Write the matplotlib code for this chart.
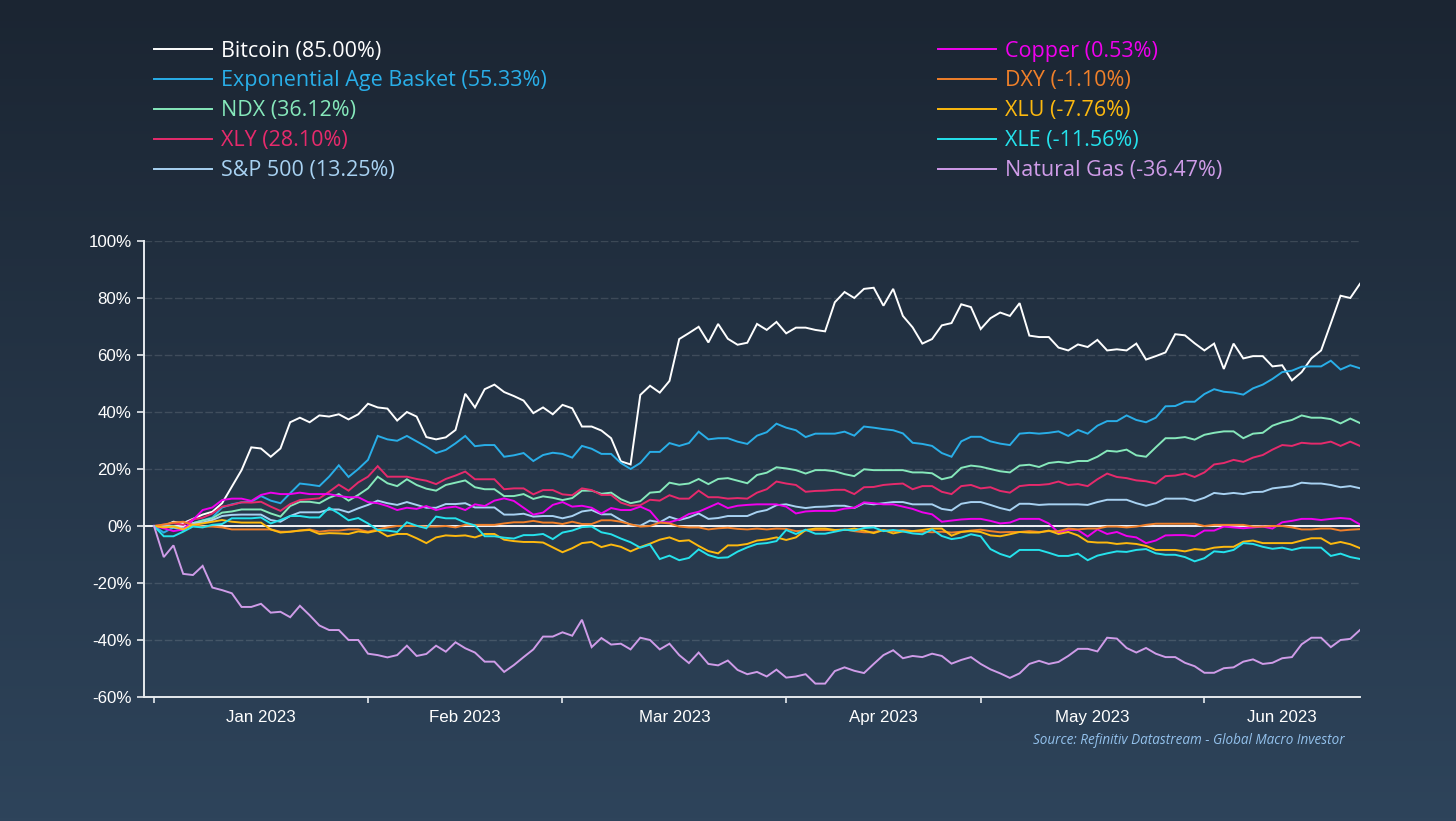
#!/usr/bin/env python3
"""Performance of assets since the start of 2023, rebased to 0%."""
import matplotlib
matplotlib.use("Agg")
import matplotlib.pyplot as plt
import numpy as np
from matplotlib.colors import LinearSegmentedColormap

W, H = 1456, 821

bitcoin = [0, 0, 1.5, 1, 2.5, 4, 5, 8, 13.8, 19.6,
           27.6, 27.2, 24.3, 27.2, 36.4, 38, 36.4, 38.8, 38.4, 39.2,
           37.4, 39.2, 42.9, 41.6, 41.2, 37, 40, 38.4, 31.2, 30.4,
           31.1, 33.7, 46.4, 41.6, 48, 49.6, 47, 45.6, 44, 39.6,
           41.6, 39.2, 42.5, 41.3, 34.9, 34.9, 33.5, 30.8, 22.7, 21.6,
           46, 49.2, 46.8, 50.9, 65.6, 67.7, 69.9, 64.4, 70.9, 65.7,
           63.6, 64.3, 70.9, 68.8, 71.6, 67.6, 69.6, 69.6, 68.8, 68.3,
           78.5, 82.1, 80, 83.2, 83.6, 77.3, 83.2, 73.7, 69.7, 64,
           65.6, 70.4, 71.2, 77.8, 76.8, 69.1, 72.9, 74.9, 73.7, 78.2,
           66.8, 66.3, 66.3, 62.6, 61.6, 63.7, 62.8, 65.3, 61.6, 62,
           61.6, 64, 58.4, 59.6, 60.9, 67.3, 66.9, 64.1, 61.6, 64,
           55.1, 64, 58.8, 59.6, 59.6, 56, 56.4, 51.1, 54, 58.8,
           61.6, 71.1, 80.8, 80, 85]
exp_age = [0, -2.3, -0.5, -1.5, 1, 2, 3, 6.5, 7.6, 8.3,
           8.5, 10.5, 8.9, 8, 11.5, 14.9, 14.5, 14, 17.3, 21.3,
           17.2, 20, 23.2, 31.6, 30.4, 29.9, 31.6, 29.7, 27.8, 25.6,
           26.7, 29, 31.6, 28, 28.4, 28.4, 24.3, 24.8, 25.6, 22.8,
           24.9, 25.7, 25.3, 24, 28.1, 27.1, 25.3, 25.3, 22.1, 20,
           22.1, 26, 26, 29.1, 28.1, 29.1, 33.1, 30.4, 30.8, 30.8,
           29.6, 28.8, 31.7, 32.9, 35.9, 34.5, 33.6, 31.2, 32.4, 32.4,
           32.4, 33.1, 31.7, 34.9, 34.5, 34, 33.6, 32.5, 29.2, 28.8,
           28.1, 25.6, 24.3, 29.7, 31.3, 31.3, 29.7, 28.9, 28.4, 32.4,
           32.7, 32.4, 32.7, 33.2, 31.6, 33.7, 32.4, 35.2, 36.8, 36.8,
           38.8, 37.2, 36.4, 38, 42, 42.1, 43.6, 43.6, 46.3, 48,
           47.1, 46.8, 46.1, 48.3, 49.6, 51.6, 54, 54.5, 55.9, 56,
           56, 58, 54.9, 56.4, 55.33]
ndx = [0, 0, 0, -1, 1, 1.9, 2.7, 4.7, 5.1, 5.8,
       5.8, 5.8, 4.4, 3.3, 7, 8.5, 8.5, 8, 9.9, 11.2,
       8.9, 10.9, 13.2, 17.3, 15, 14, 16.4, 14.4, 13.1, 12.4,
       14.4, 15.2, 16, 13.6, 12.9, 12.9, 10.5, 10.5, 11.2, 9.5,
       10.4, 9.9, 9.1, 9.8, 12.4, 12.4, 11.3, 11.7, 9.4, 8,
       8.7, 11.7, 12, 15.2, 14.5, 14.9, 16.5, 14.7, 16.5, 16.8,
       15.9, 15, 17.9, 18.7, 20.6, 20.2, 19.6, 18.4, 19.6, 19.6,
       19.2, 18.2, 17.5, 19.9, 19.6, 19.6, 19.6, 19.6, 18.8, 18.8,
       18.5, 16.4, 17.2, 20.4, 21.2, 20.8, 20, 19.2, 18.8, 21.2,
       21.5, 20.7, 22.1, 22.5, 22.1, 22.8, 22.8, 24.3, 26.4, 26.1,
       26.8, 24.8, 24.3, 27.6, 30.8, 30.8, 31.2, 30.3, 32, 32.7,
       33.2, 33.2, 30.8, 32.4, 32.7, 35.2, 36.4, 37.2, 38.8, 38,
       38, 37.5, 36, 37.7, 36.12]
xly = [0, 0.5, 1, 0.4, 2.3, 2.9, 4.4, 6.8, 7.4, 8.3,
       8.2, 8.5, 6.8, 5.3, 7.7, 9.1, 9.4, 9.7, 12, 14.5,
       12.4, 15.3, 17.3, 21, 17.3, 17.3, 17.3, 16.5, 15.9, 14.7,
       16.5, 17.7, 19.1, 16.4, 16.4, 16.4, 12.9, 13.2, 13.2, 11.1,
       12.6, 12.6, 11.1, 10.8, 13.2, 12.6, 10.9, 10.9, 8.2, 7.1,
       7.3, 9.2, 8.9, 10.8, 9.6, 9.6, 12.4, 10.1, 10.1, 9.6,
       9.8, 9.6, 11.7, 12.9, 15.6, 14.9, 14.4, 12, 12.3, 12.4,
       12.7, 12.7, 11.2, 13.6, 13.7, 14.4, 14.7, 14.9, 12.9, 14,
       14, 12, 11.2, 14, 14.4, 13.2, 13.6, 12.3, 11.7, 14,
       14.4, 14.4, 14.7, 15.6, 14.4, 14.7, 14, 16.4, 18.4, 17.2,
       16.8, 16, 15.7, 14.9, 17.5, 17.7, 18.4, 17.2, 18.8, 21.6,
       22.1, 23.2, 22.5, 24, 24.9, 26.8, 28.4, 28.1, 29.2, 28.9,
       28.9, 29.6, 28.1, 29.6, 28.1]
spx = [0, 0, -0.5, -0.8, 1, 1.2, 2.1, 3.5, 3.9, 4,
       4, 4, 2.1, 1.5, 3.5, 4.8, 4.8, 4.8, 5.8, 5.8,
       4.8, 6.2, 7.4, 8.9, 8, 7.4, 8.4, 7.4, 6.4, 6.4,
       7.7, 7.7, 8, 6.5, 6.5, 6.5, 4, 4, 4.3, 3.3,
       3.5, 3.5, 2.7, 3.5, 5.1, 5.6, 4.1, 4.1, 2.1, 0.4,
       0.1, 1.9, 1.3, 3.2, 2.1, 3, 4.4, 2.5, 2.8, 3.5,
       3.5, 3.5, 4.9, 5.6, 7.3, 7.6, 6.8, 6.3, 6.7, 6.8,
       7.1, 7.1, 6.3, 8, 7.6, 8, 8.4, 8.4, 7.6, 7.6,
       7.6, 6, 5.5, 7.8, 8.4, 8.4, 7.4, 6.3, 5.5, 7.8,
       7.8, 7.4, 7.6, 7.6, 7.6, 7.6, 7.4, 8.4, 9.2, 9.2,
       9.2, 8, 7.1, 8, 9.6, 9.6, 9.6, 8.8, 9.9, 11.6,
       11.2, 11.6, 11.2, 11.9, 12, 13.2, 13.6, 14, 15.2, 14.9,
       14.9, 14.4, 13.6, 14, 13.25]
copper = [0, -0.8, -1.8, -1.2, 2.1, 5.6, 6.5, 9.1, 9.6, 9.6,
          8.8, 10.9, 11.7, 11.2, 11.2, 11.7, 11.2, 11.2, 11.2, 10.5,
          10.1, 10.1, 8.4, 8, 7, 5.6, 6.4, 6, 7, 5.6,
          6.4, 6.8, 5.6, 7.6, 7, 8.9, 9.7, 8.8, 6.4, 4,
          4.7, 7.4, 8.4, 6.8, 7.1, 6.4, 4.4, 6.3, 5.6, 5.6,
          6.8, 5.3, 1.3, 1.3, 2.3, 4.2, 5, 6.5, 8, 6.3,
          7.1, 7.4, 7.6, 7.6, 7.6, 6.8, 4.4, 5.1, 5.3, 5.3,
          5.3, 6.1, 6.4, 8.3, 8, 7.6, 7.6, 6.8, 6, 4.8,
          4.1, 1.5, 1.9, 2.3, 2.5, 2.5, 1.8, 0.9, 1.2, 2.5,
          2.5, 2.5, 0.9, -2.3, -1.3, -1.4, -3.7, -1.2, -2.8, -2.1,
          -3.5, -4, -6, -5.1, -3.3, -3.2, -3.2, -3.6, -1.6, -1.6,
          -0.2, -0.5, -0.8, -0.5, -0.2, -0.9, 1.3, 1.8, 2.5, 2.5,
          2.1, 2.5, 2.8, 2.5, 0.53]
dxy = [0, 0.5, 1.2, 1.5, 0.4, -0.2, -0.2, -0.5, -1.2, -1.2,
       -1.2, -1.2, -1.2, -2, -2, -1.6, -1.2, -2, -1.6, -1.6,
       -1.2, -1.2, -2, -1.2, -0.5, 0, 0, 0, -0.2, -0.2,
       0, -0.5, 0.4, 0.4, 0.4, 0.4, 0.9, 1.3, 1.3, 1.8,
       1.2, 1.2, 0.7, 1.5, 0.7, 0.7, 2, 2, 1.5, 0.6,
       -0.2, 0, 1.2, 0.9, -0.2, -0.5, -0.5, -1.2, -0.8, -0.6,
       -1, -1.2, -0.9, -1.2, -0.9, -1, -1.8, -1.6, -1.4, -1.4,
       -1.4, -1.2, -1.8, -2.2, -2.2, -1.4, -1.8, -1.4, -1.8, -2,
       -2.2, -2, -2.3, -2, -1.6, -1.3, -1.8, -2.2, -2.1, -2.1,
       -1.8, -2.1, -1.8, -1.8, -0.9, -1.2, -0.9, -0.9, -0.2, -0.2,
       -0.5, -0.2, 0.4, 0.8, 0.8, 0.8, 0.8, 0.8, 0, 0.4,
       0.4, 0.4, 0.4, -0.2, -0.2, 0, 0, -0.5, -1.2, -1.2,
       -0.9, -0.9, -1.6, -1.3, -1.1]
xlu = [0, -0.5, -0.2, -1.2, 0.4, 0.9, 1.5, 2.1, 1.5, 1.2,
       1.2, 1.2, -1.2, -2.3, -2, -1.6, -1.4, -2.8, -2.5, -2.6,
       -2.8, -1.9, -2.3, -1.6, -3.6, -2.8, -2.8, -4.3, -6, -4,
       -3.3, -3.5, -3.3, -4, -2.8, -2.8, -4.8, -5.3, -5.6, -5.6,
       -5.8, -7.5, -9.2, -7.8, -6, -5.6, -7.4, -6.5, -7.3, -8.9,
       -7.4, -6.2, -4.8, -4, -5.3, -5, -7, -8.8, -9.6, -6.8,
       -6.8, -6.3, -5.1, -4.7, -4, -4.9, -4, -1.4, -0.9, -0.9,
       -1.4, -1.4, -0.9, -1.6, -2.5, -1.4, -2.6, -1.9, -1.8, -1.4,
       -0.9, -0.9, -3.4, -2.1, -1.8, -2.1, -3.3, -3.6, -2.9, -2.1,
       -2.3, -2.3, -1.6, -2.8, -2.1, -3.3, -5.5, -5.8, -5.8, -6.3,
       -6, -6.3, -7, -8.4, -8.4, -8.4, -8.9, -8.1, -8.4, -7.6,
       -7.3, -7.3, -5.5, -5.1, -6, -6, -6, -6, -5.1, -4.3,
       -4.3, -6.3, -5.6, -6.4, -7.76]
xle = [0, -3.6, -3.6, -2, -0.2, -0.5, 0.4, 0.7, 2.7, 2.7,
       2.7, 3, 0.9, 2.1, 3.5, 3.5, 3, 3, 6.4, 4.4,
       2, 2.8, 0.9, -1.4, -1.6, -2.1, 1.3, 0.1, -0.8, 3.3,
       2.7, 2.7, 1.2, 0.2, -3.6, -3.6, -4.1, -4.4, -3.2, -3.2,
       -2.8, -4.6, -2.3, -1.6, -0.4, -0.2, -2.2, -2.9, -4.4, -5.7,
       -7.6, -6.5, -11.6, -10.4, -12, -11.2, -8.2, -10.2, -11.2, -11,
       -9, -7.5, -6.3, -6, -5.3, -1.4, -2.8, -1.3, -2.7, -2.7,
       -2, -1.3, -1.6, -0.7, -0.5, -1.8, -1.4, -1.9, -2.6, -2.9,
       -1.2, -3.5, -4.6, -4.1, -2.9, -3.6, -8.1, -9.8, -10.9, -8.4,
       -8.4, -8.4, -9.4, -10.5, -10.5, -9.7, -12, -10.4, -9.6, -8.9,
       -9.1, -8.4, -8.1, -9.6, -10.1, -10.1, -10.9, -12.4, -11.3, -8.9,
       -9.2, -8.4, -6, -6.3, -7.3, -8, -7.6, -8.4, -7.6, -7.6,
       -7.6, -10.5, -9.7, -10.9, -11.56]
natgas = [0, -10.9, -6.8, -16.8, -17.2, -14, -21.6, -22.5, -23.6, -28.4,
          -28.4, -27.3, -30.4, -30.1, -32, -28, -31.3, -34.9, -36.5, -36.5,
          -40, -40, -44.8, -45.3, -46.1, -45.3, -42, -45.6, -44.9, -42,
          -44.1, -40.8, -42.9, -44.4, -47.6, -47.6, -51.2, -48.8, -46, -43.3,
          -38.8, -38.8, -37.3, -38.5, -32.9, -42.5, -39.3, -41.6, -41.3, -43.3,
          -39.2, -40, -43.3, -41.3, -45.3, -48.1, -44.4, -48.4, -48.9, -47.2,
          -50.5, -52, -51.2, -52.8, -50.4, -53.2, -52.8, -52, -55.3, -55.3,
          -50.9, -49.6, -50.8, -51.6, -48.4, -45.3, -43.6, -46.4, -45.6, -46,
          -44.8, -45.6, -48.3, -47, -46, -48.4, -50.3, -51.7, -53.3, -51.7,
          -48.4, -47.3, -48.4, -47.7, -45.6, -43.1, -43.1, -44, -39.2, -39.5,
          -42.8, -44.4, -42.8, -44.8, -46, -46, -48, -49.2, -51.5, -51.5,
          -49.9, -49.6, -47.6, -46.8, -48.4, -48, -46.4, -46, -41.5, -39.2,
          -39.2, -42.5, -40, -39.6, -36.47]

series = [bitcoin, exp_age, ndx, xly, spx, copper, dxy, xlu, xle, natgas]
names = ["Bitcoin", "Exponential Age Basket", "NDX", "XLY", "S&P 500",
         "Copper", "DXY", "XLU", "XLE", "Natural Gas"]
totals = ["85.00", "55.33", "36.12", "28.10", "13.25",
          "0.53", "-1.10", "-7.76", "-11.56", "-36.47"]
colors = ["#ffffff", "#29aee8", "#86e8bb", "#e62a6c", "#a8d2f2",
          "#f000ee", "#f0802a", "#fdb90f", "#25e2ec", "#cf9ce8"]

# trading-day index where each month starts, and where its label sits
month_starts = [0, 22, 42, 65, 85, 108]
month_centres = [11, 32, 53.5, 75, 96.5, 116]
month_labels = ["Jan 2023", "Feb 2023", "Mar 2023", "Apr 2023", "May 2023", "Jun 2023"]
y_ticks = [-60, -40, -20, 0, 20, 40, 60, 80, 100]

plt.rcParams["font.family"] = ["Liberation Sans", "DejaVu Sans"]
AXIS = "#e6eaee"

fig = plt.figure(figsize=(W / 100, H / 100), dpi=100)

# background gradient
bg = fig.add_axes([0, 0, 1, 1], zorder=0)
bg.axis("off")
cmap = LinearSegmentedColormap.from_list("bg", ["#1b2532", "#2e445b"])
bg.imshow(np.linspace(0, 1, 256).reshape(-1, 1), aspect="auto", cmap=cmap)

ax = fig.add_axes([144 / W, (H - 697) / H, (1360 - 144) / W, (697 - 241) / H], zorder=1)
ax.patch.set_alpha(0)

ax.grid(axis="y", color="white", alpha=0.13, lw=1.0, ls=(0, (5.5, 1.8)), zorder=1)
ax.axhline(0, color="#f2f4f6", lw=1.4, zorder=2)

lines = []
for vals, name, tot, col in zip(series, names, totals, colors):
    ln, = ax.plot(np.arange(len(vals)), vals, color=col, lw=1.4, zorder=3,
                  solid_joinstyle="miter", label=f"{name} ({tot}%)")
    lines.append(ln)

ax.set_xlim(-1.03, 124)
ax.set_ylim(-60, 100)
ax.set_yticks(y_ticks)
ax.set_yticklabels([f"{v}%" for v in y_ticks])
ax.set_xticks(month_starts)
ax.set_xticklabels([])
ax.set_xticks(month_centres, minor=True)
ax.set_xticklabels(month_labels, minor=True)
ax.tick_params(axis="y", length=5, width=1.2, color=AXIS, labelcolor="white", labelsize=12.2, pad=4)
ax.tick_params(axis="x", which="major", length=4.5, width=1.2, color=AXIS)
ax.tick_params(axis="x", which="minor", length=0, labelcolor="white", labelsize=12.2, pad=9)

for side in ["top", "right"]:
    ax.spines[side].set_visible(False)
for side in ["left", "bottom"]:
    ax.spines[side].set_color(AXIS)
    ax.spines[side].set_linewidth(1.4)

# two legend columns, text takes the colour of its line
leg_style = dict(frameon=False, labelcolor="linecolor", handlelength=2.69,
                 handletextpad=0.42, labelspacing=0.415, borderpad=0, borderaxespad=0,
                 loc="upper left", bbox_transform=fig.transFigure,
                 prop={"family": "Open Sans", "size": 15.5})
leg1 = ax.legend(handles=lines[:5], bbox_to_anchor=(154 / W, 1 - 40.5 / H), **leg_style)
ax.add_artist(leg1)
ax.legend(handles=lines[5:], bbox_to_anchor=(938 / W, 1 - 40.5 / H), **leg_style)

fig.text(1345 / W, 1 - 740 / H, "Source: Refinitiv Datastream - Global Macro Investor",
         ha="right", va="center", color="#93c1ec", fontsize=9.75, style="italic", family="Open Sans")

fig.savefig("out.png", dpi=100)
